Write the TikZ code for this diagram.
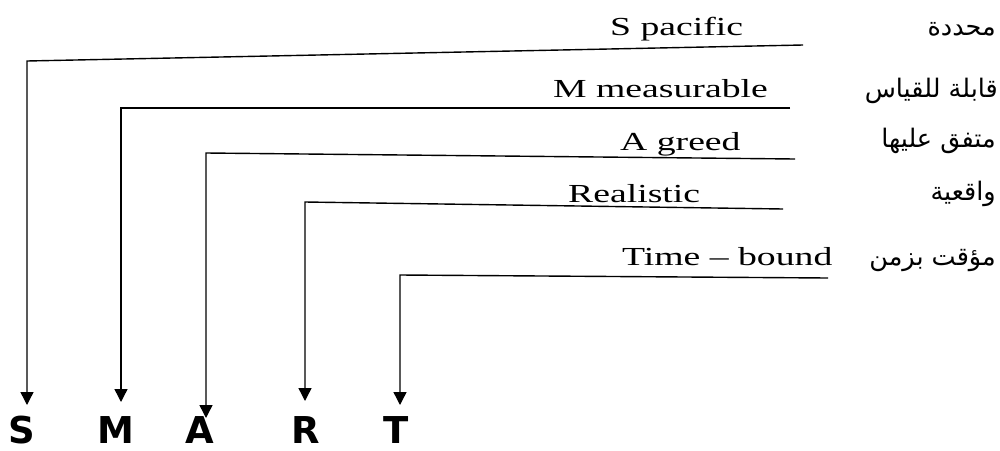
\documentclass[tikz,border=0pt]{standalone}
\usepackage{fontspec}
\usetikzlibrary{arrows.meta}
\TeXXeTstate=1
\newfontfamily\latinfont[FakeStretch=1.45]{Liberation Serif}
\newfontfamily\arabicfont[Script=Arabic]{DejaVu Sans}
\newfontfamily\letterfont{DejaVu Sans}
\begin{document}
\begin{tikzpicture}[x=1pt,y=-1pt,
  conn/.style={line width=1.4pt,-{Triangle[length=13pt,width=13pt]}},
  eng/.style={anchor=base west,inner sep=0pt,font=\latinfont\fontsize{26}{30}\selectfont},
  arab/.style={anchor=base east,inner sep=0pt,font=\arabicfont\fontsize{25.5}{30}\selectfont},
  letter/.style={anchor=base,inner sep=0pt,font=\letterfont\bfseries\fontsize{37}{40}\selectfont}]
\useasboundingbox (0,0) rectangle (1000,450);
% English labels
\node[eng] (tS) at (610,35) {S pacific};
\node[eng] (tM) at (553,97) {M measurable};
\node[eng] (tA) at (620,150) {A greed};
\node[eng] (tR) at (568,202) {Realistic};
\node[eng] (tT) at (622,265) {Time – bound};
% Arabic labels
\node[arab] (aS) at (996,35) {\beginR محددة\endR};
\node[arab] (aM) at (998,97) {\beginR قابلة للقياس\endR};
\node[arab] (aA) at (996,147) {\beginR متفق عليها\endR};
\node[arab] (aR) at (996,200) {\beginR واقعية\endR};
\node[arab] (aT) at (996,265) {\beginR مؤقت بزمن\endR};
% letters
\node[letter] (S) at (22,443) {S};
\node[letter] (M) at (116,443) {M};
\node[letter] (A) at (200,443) {A};
\node[letter] (R) at (306,443) {R};
\node[letter] (T) at (396,443) {T};
% connector coordinates
\coordinate (eS) at (803,45);  \coordinate (cS) at (27,61);  \coordinate (pS) at (27,405);
\coordinate (eM) at (790,108); \coordinate (cM) at (121,108); \coordinate (pM) at (121,402);
\coordinate (eA) at (795,159); \coordinate (cA) at (206,153); \coordinate (pA) at (206,418);
\coordinate (eR) at (783,209); \coordinate (cR) at (305,202); \coordinate (pR) at (305,401);
\coordinate (eT) at (828,278); \coordinate (cT) at (400,275); \coordinate (pT) at (400,405);
\draw[conn] (eS) -- (cS) -- (pS);
\draw[conn] (eM) -- (cM) -- (pM);
\draw[conn] (eA) -- (cA) -- (pA);
\draw[conn] (eR) -- (cR) -- (pR);
\draw[conn] (eT) -- (cT) -- (pT);
\end{tikzpicture}
\end{document}
